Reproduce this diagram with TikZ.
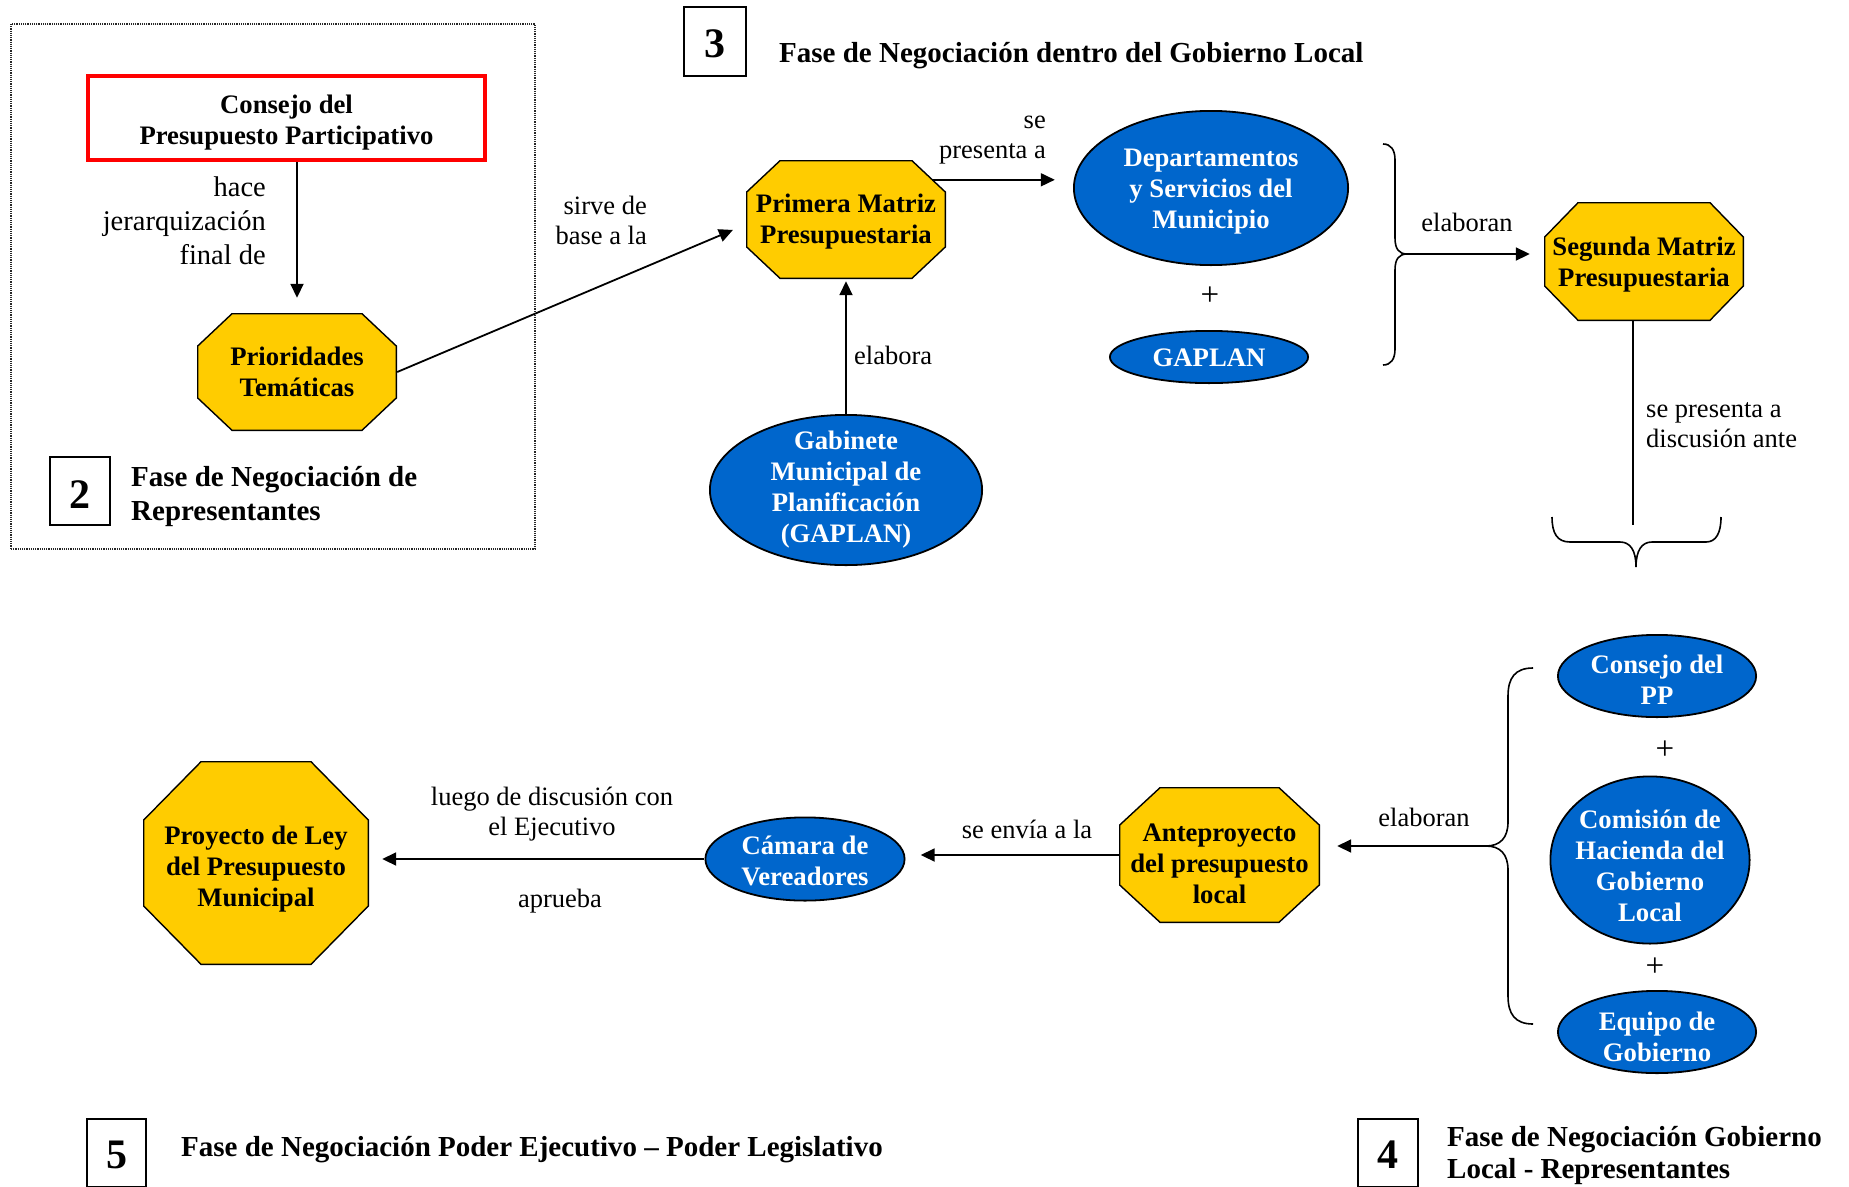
\documentclass[tikz,border=0pt]{standalone}
\usepackage{fontspec}
\setmainfont{Liberation Serif}
\usetikzlibrary{arrows.meta,calc}

\definecolor{octgold}{HTML}{FFCC00}
\definecolor{ovalblue}{HTML}{0066CC}
\definecolor{framered}{HTML}{FF0000}

\newcommand\octfont{\fontsize{26.7}{31}\selectfont\bfseries}
\newcommand\lblfont{\fontsize{26.5}{30}\selectfont}
\newcommand\biglblfont{\fontsize{28.5}{34}\selectfont}
\newcommand\ttlfont{\fontsize{29}{32}\selectfont\bfseries}
\newcommand\numfont{\fontsize{42}{42}\selectfont\bfseries}

\tikzset{
  % octagon drawn inside a rectangle node: width, height, x-chamfer, y-chamfer
  octo/.style n args={4}{rectangle, inner sep=0pt, minimum width=#1pt, minimum height=#2pt,
    path picture={\filldraw[fill=octgold, draw=black, line width=1.4pt]
      ([xshift=#3pt, yshift=-0.7pt]path picture bounding box.north west) --
      ([xshift=-#3pt, yshift=-0.7pt]path picture bounding box.north east) --
      ([xshift=-0.7pt, yshift=-#4pt]path picture bounding box.north east) --
      ([xshift=-0.7pt, yshift=#4pt]path picture bounding box.south east) --
      ([xshift=-#3pt, yshift=0.7pt]path picture bounding box.south east) --
      ([xshift=#3pt, yshift=0.7pt]path picture bounding box.south west) --
      ([xshift=0.7pt, yshift=#4pt]path picture bounding box.south west) --
      ([xshift=0.7pt, yshift=-#4pt]path picture bounding box.north west) -- cycle;}},
  % blue oval drawn inside a rectangle node: width, height
  oval/.style n args={2}{rectangle, inner sep=0pt, minimum width=#1pt, minimum height=#2pt,
    path picture={\filldraw[fill=ovalblue, draw=black, line width=1.8pt]
      (path picture bounding box.center) ellipse [x radius=#1/2-0.9, y radius=#2/2-0.9];}},
  otext/.style={inner sep=0pt, align=center, font=\octfont},
  vtext/.style={otext, text=white},
  numbox/.style={draw, line width=1.8pt, inner sep=0pt, minimum width=60pt, minimum height=68pt},
  numtext/.style={inner sep=0pt, font=\numfont},
  lbl/.style={inner sep=0pt, font=\lblfont},
  plus/.style={inner sep=0pt, font=\fontsize{33}{33}\selectfont},
  ttl/.style={inner sep=0pt, font=\ttlfont, anchor=west, align=left},
  arr/.style={line width=1.8pt, -{Triangle[length=14pt, width=13pt]}},
  brace/.style={line width=1.6pt},
}

\begin{document}
\begin{tikzpicture}[x=1pt, y=1pt]
\useasboundingbox (0,0) rectangle (1849,-1186);

% ---- phase 2 ----
\node[draw=black!85, densely dotted, line width=1.2pt, minimum width=524pt, minimum height=525pt, inner sep=0pt] (frame2) at (273,-286.5) {};
\node[draw=framered, line width=4.3pt, minimum width=397pt, minimum height=84pt, inner sep=0pt] (cpp) at (286.5,-118) {};
\node[otext] (cppt) at ([yshift=-5pt]cpp.center) {Consejo del\\Presupuesto Participativo};
\node[octo={200}{118}{35}{33}] (prio) at (297,-372) {};
\node[otext] (priot) at (prio.center) {Prioridades\\Temáticas};
\node[lbl, font=\biglblfont, anchor=east, align=right] (lhace) at (266,-221) {hace\\jerarquización\\final de};
\node[numbox] (n2) at (80,-491) {};
\node[numtext] (n2t) at ([yshift=-4pt]n2.center) {2};
\node[ttl, font=\fontsize{29}{34}\selectfont\bfseries] (t2) at (131,-497) {Fase de Negociación de\\Representantes};

% ---- phase 3 ----
\node[numbox, minimum width=62pt, minimum height=69pt] (n3) at (715,-41.5) {};
\node[numtext] (n3t) at ([yshift=-2pt]n3.center) {3};
\node[ttl] (t3) at (779,-56) {Fase de Negociación dentro del Gobierno Local};
\node[octo={200}{119}{34}{32}] (prim) at (846,-219.5) {};
\node[otext] (primt) at ([yshift=-2pt]prim.center) {Primera Matriz\\Presupuestaria};
\node[oval={276}{156}] (dept) at (1211,-188) {};
\node[vtext] (deptt) at ([yshift=-4pt]dept.center) {Departamentos\\y Servicios del\\Municipio};
\node[plus] (plus1) at (1210,-296) {+};
\node[oval={200}{54}] (gap) at (1209,-357) {};
\node[vtext] (gapt) at ([yshift=-1pt]gap.center) {GAPLAN};
\node[oval={274}{152}] (gab) at (846,-490) {};
\node[vtext] (gabt) at (gab.center) {Gabinete\\Municipal de\\Planificación\\(GAPLAN)};
\node[octo={200}{119}{34}{35}] (seg) at (1644,-261.5) {};
\node[otext] (segt) at ([yshift=-3pt]seg.center) {Segunda Matriz\\Presupuestaria};

\node[lbl, anchor=east, align=right] (lsirve) at (647,-220) {sirve de\\base a la};
\node[lbl, anchor=east, align=right] (lse) at (1046,-140) {se\\presenta a};
\node[lbl, anchor=west] (lelab) at (854,-355) {elabora};
\node[lbl] (lelab1) at (1467,-222) {elaboran};
\node[lbl, anchor=west, align=left] (ldisc) at (1646,-425) {se presenta a\\discusión ante};

% ---- phase 4 ----
\node[oval={200}{84}] (cpp2) at (1657,-676) {};
\node[vtext] (cpp2t) at ([yshift=-4pt]cpp2.center) {Consejo del\\PP};
\node[plus] (plus2) at (1665,-750) {+};
\node[oval={201}{169}] (chac) at (1650,-860) {};
\node[vtext] (chact) at ([yshift=-6pt]chac.center) {Comisión de\\Hacienda del\\Gobierno\\Local};
\node[plus] (plus3) at (1655,-967) {+};
\node[oval={200}{84}] (eqg) at (1657,-1032) {};
\node[vtext] (eqgt) at ([yshift=-5pt]eqg.center) {Equipo de\\Gobierno};
\node[octo={201}{136}{41}{38}] (ante) at (1219.5,-855) {};
\node[otext] (antet) at ([yshift=-9pt]ante.center) {Anteproyecto\\del presupuesto\\local};
\node[lbl] (lelab2) at (1424,-817) {elaboran};
\node[numbox] (n4) at (1388,-1153) {};
\node[numtext] (n4t) at ([yshift=-2pt]n4.center) {4};
\node[ttl] (t4) at (1447,-1155) {Fase de Negociación Gobierno\\Local - Representantes};

% ---- phase 5 ----
\node[oval={201}{85}] (cam) at (805,-859) {};
\node[vtext] (camt) at ([yshift=-2pt]cam.center) {Cámara de\\Vereadores};
\node[octo={226}{204}{58}{59}] (proy) at (256,-863) {};
\node[otext] (proyt) at ([yshift=-6pt]proy.center) {Proyecto de Ley\\del Presupuesto\\Municipal};
\node[lbl] (lenvia) at (1027,-829) {se envía a la};
\node[lbl, align=center] (lluego) at (552,-814) {luego de discusión con\\el Ejecutivo};
\node[lbl] (lapr) at (560,-901) {aprueba};
\node[numbox, minimum width=59pt] (n5) at (116.5,-1153) {};
\node[numtext] (n5t) at ([yshift=-2pt]n5.center) {5};
\node[ttl] (t5) at (181,-1150) {Fase de Negociación Poder Ejecutivo – Poder Legislativo};

% ---- connectors ----
\draw[arr, shorten >=15pt] (cpp.south -| prio.north) -- (prio.north);
\draw[arr, shorten >=14pt] (prio.east) -- ([yshift=-5pt]prim.west);
\coordinate (pe) at ([xshift=-14pt, yshift=-20pt]prim.north east);
\draw[arr, shorten >=18pt] (pe) -- (pe -| dept.west);
\draw[arr, shorten >=2pt] (gab.north) -- (prim.south);

% brace gathering the two offices
\coordinate (b1tip) at (1407,-254);
\draw[brace] (1383,-144) .. controls (1391,-144) and (1395,-150) .. (1395,-160)
  -- (1395,-238) .. controls (1395,-249) and (1399,-254) .. (b1tip)
  .. controls (1399,-254) and (1395,-259) .. (1395,-270)
  -- (1395,-349) .. controls (1395,-359) and (1391,-365) .. (1383,-365);
\draw[arr, shorten >=14pt] (b1tip) -- (b1tip -| seg.west);

% line down to the lower brace
\coordinate (b2top) at (1633,-525);
\coordinate (b2tip) at (1636,-567);
\draw[line width=1.8pt] ([xshift=-11pt]seg.south) -- (b2top);
\draw[brace] (1552,-517) .. controls (1552,-533) and (1557,-542) .. (1570,-542)
  -- (1620,-542) .. controls (1630,-542) and (1636,-550) .. (b2tip)
  .. controls (1636,-550) and (1642,-542) .. (1652,-542)
  -- (1706,-542) .. controls (1716,-542) and (1721,-533) .. (1721,-517);

% brace gathering the three actors
\coordinate (b3tip) at (1486,-846);
\draw[brace] (1533,-668) .. controls (1515,-668) and (1508,-678) .. (1508,-696)
  -- (1508,-822) .. controls (1508,-838) and (1500,-846) .. (b3tip)
  .. controls (1500,-846) and (1508,-854) .. (1508,-870)
  -- (1508,-996) .. controls (1508,-1014) and (1515,-1024) .. (1533,-1024);
\draw[arr, shorten >=17pt] (b3tip) -- (b3tip -| ante.east);

\draw[arr, shorten >=15pt] (ante.west) -- (ante.west -| cam.east);
\draw[arr, shorten >=13pt] (cam.west) -- (cam.west -| proy.east);
\end{tikzpicture}
\end{document}
